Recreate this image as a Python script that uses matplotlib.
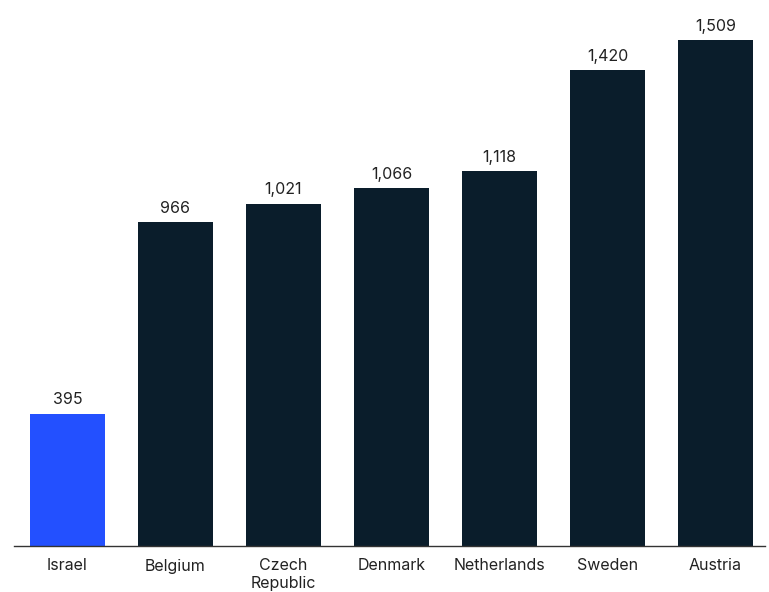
import matplotlib
matplotlib.use("Agg")
import matplotlib.pyplot as plt

countries = ["Israel", "Belgium", "Czech\nRepublic", "Denmark", "Netherlands", "Sweden", "Austria"]
values = [395, 966, 1021, 1066, 1118, 1420, 1509]

BLUE = "#2350ff"
NAVY = "#0a1d2b"
colors = [BLUE] + [NAVY] * (len(values) - 1)

plt.rcParams.update({"font.family": ["Inter", "DejaVu Sans"], "font.size": 11.5})

W, H = 769, 592
fig = plt.figure(figsize=(W / 100, H / 100), dpi=100)
ax = fig.add_axes([14 / W, 46 / H, (765 - 14) / W, (546 - 16) / H])

x = list(range(len(values)))
bars = ax.bar(x, values, width=0.694, color=colors, zorder=2)
for xi, v in zip(x, values):
    ax.text(xi, v + 18, f"{v:,}", ha="center", va="bottom", fontsize=11.5, color="#222222")

ax.set_xlim(-0.495, 6.458)
ax.set_ylim(0, 1580)
ax.set_xticks(x)
ax.set_xticklabels(countries, fontsize=11.5, color="#222222", linespacing=1.2)
ax.tick_params(axis="x", length=0, pad=9)
ax.set_yticks([])
for s in ["top", "right", "left"]:
    ax.spines[s].set_visible(False)
ax.spines["bottom"].set_color("#333333")
ax.spines["bottom"].set_linewidth(1.0)

fig.savefig("out.png", dpi=100)
